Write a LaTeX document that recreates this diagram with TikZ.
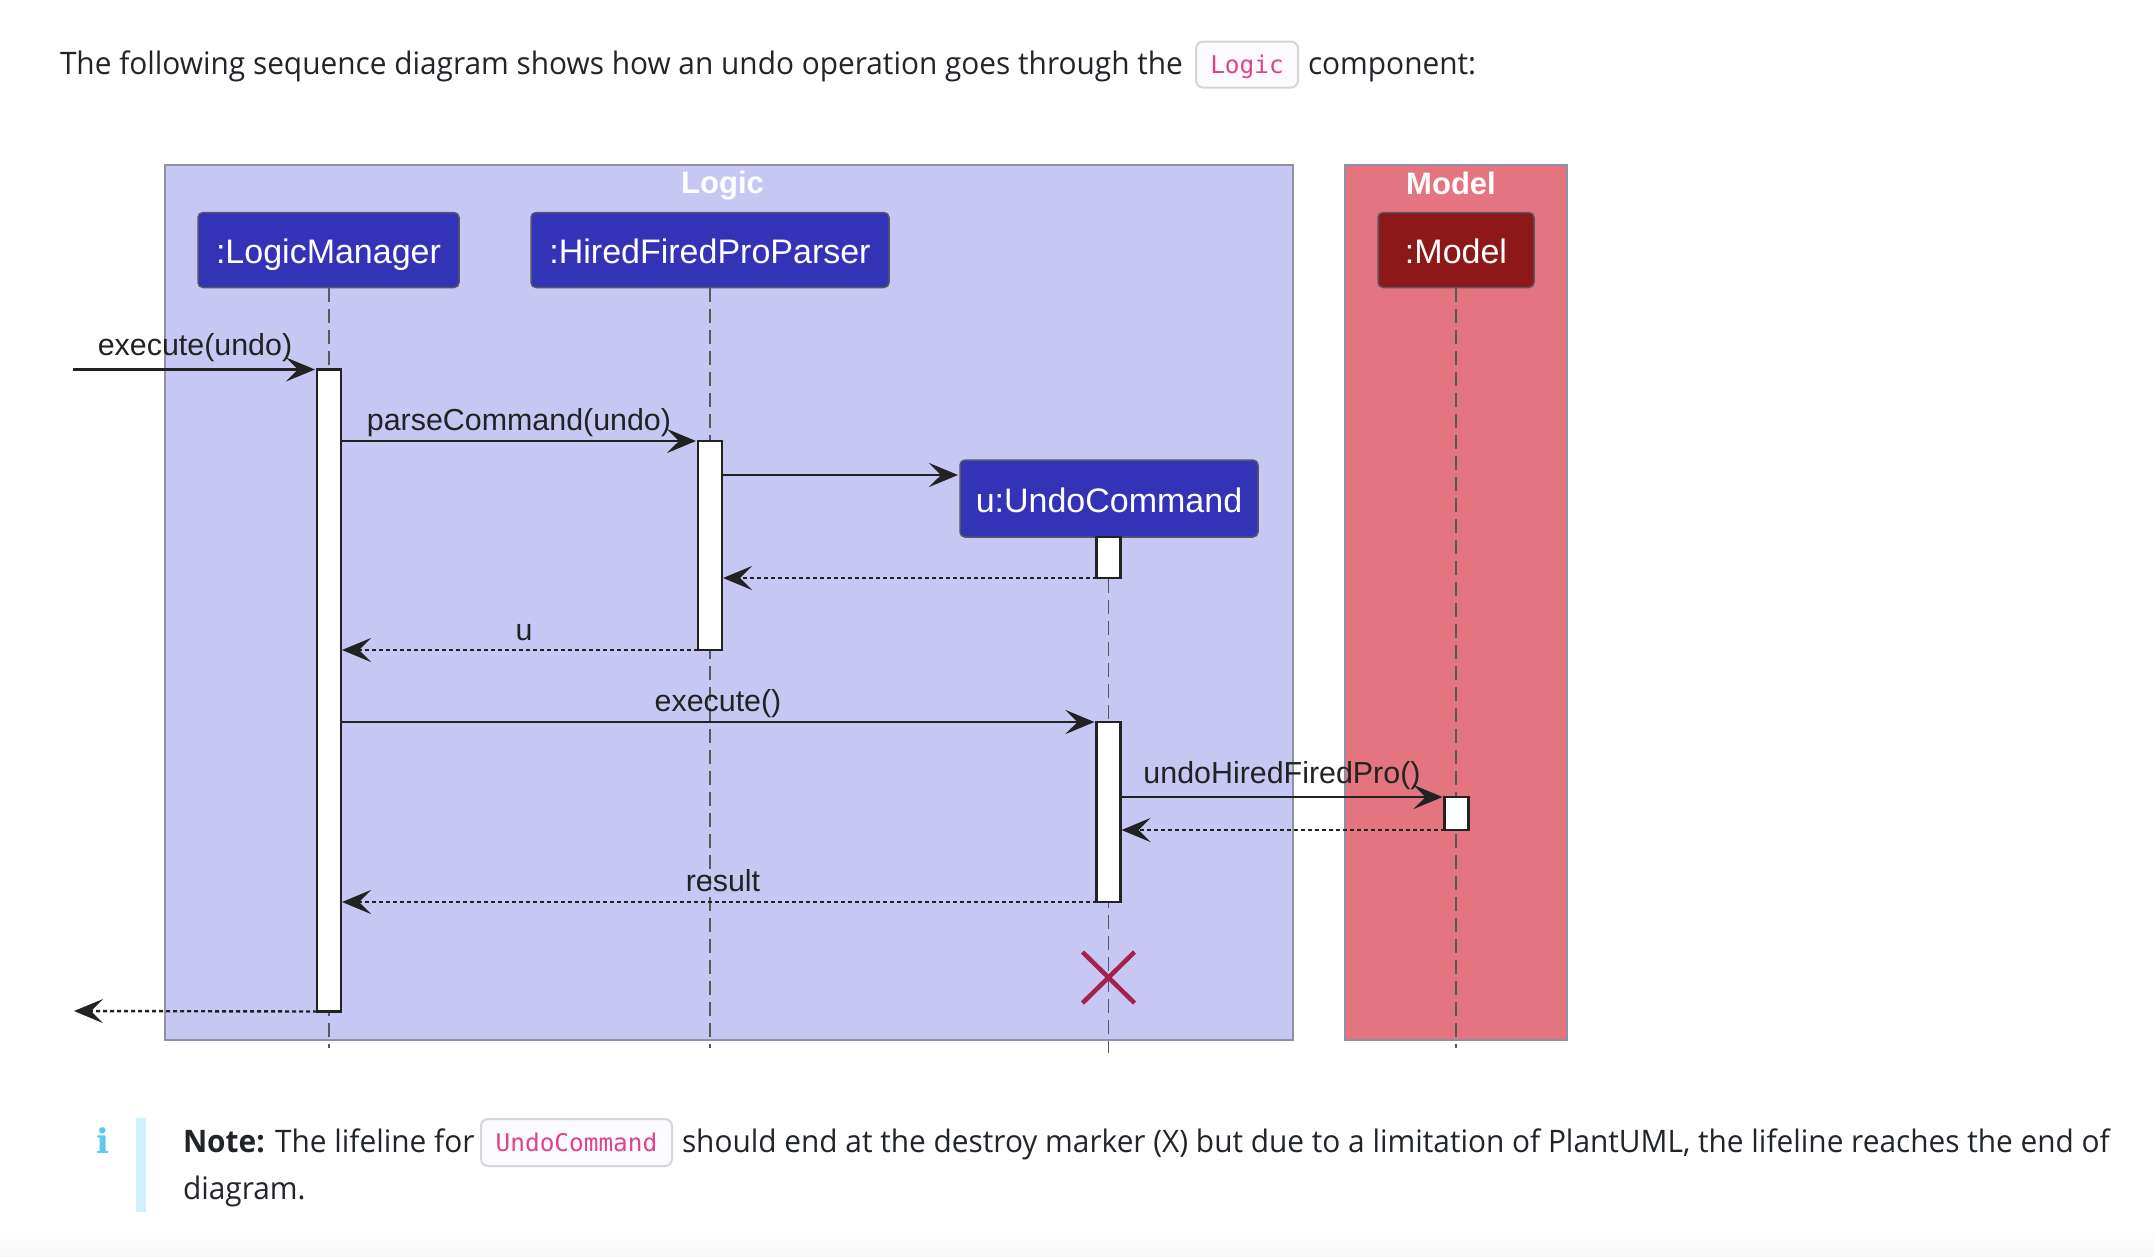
\documentclass[tikz,border=0pt]{standalone}
\usepackage{fontspec}
\usetikzlibrary{arrows.meta,positioning}
\setmainfont{Liberation Sans}
\newfontfamily\pagefont[FakeStretch=0.962]{Open Sans}
\newfontfamily\codefont{DejaVu Sans Mono}
\newfontfamily\iconfont{DejaVu Serif}
\definecolor{logicbg}{HTML}{C7C7F4}
\definecolor{modelbg}{HTML}{E47480}
\definecolor{logicactor}{HTML}{3333B8}
\definecolor{modelactor}{HTML}{8C1818}
\definecolor{groupline}{HTML}{8F8FA6}
\definecolor{ink}{HTML}{222222}
\definecolor{pageink}{HTML}{212529}
\definecolor{codepink}{HTML}{E0428A}
\definecolor{destroyred}{HTML}{A5204A}
\definecolor{infoblue}{HTML}{5CC8EE}
\begin{document}
\begin{tikzpicture}[x=1pt,y=-1pt,>={Stealth[length=29pt,width=24pt,inset=12pt]},
  every node/.style={inner sep=0pt,outer sep=0pt},
  group/.style={draw=groupline,line width=2pt,anchor=north west},
  grouptitle/.style={text=white,font=\fontsize{31}{36}\selectfont\bfseries},
  actor/.style={draw=groupline!60!black,line width=1.5pt,rounded corners=5pt,minimum height=75pt,text height=33pt,text depth=6pt,text=white,font=\fontsize{34}{40}\selectfont},
  lifeline/.style={draw=black!65,line width=1.8pt,dash pattern=on 14pt off 7pt},
  bar/.style={draw=ink,fill=white,line width=2.2pt,minimum width=24pt,anchor=north},
  call/.style={->,draw=ink,line width=2.8pt,shorten >=2pt},
  reply/.style={->,draw=ink,line width=2.4pt,dash pattern=on 4pt off 3pt,shorten >=1pt},
  msg/.style={text=ink,font=\fontsize{30.4}{36}\selectfont},
  page/.style={text=pageink,anchor=base west,font=\pagefont\fontsize{31}{38}\selectfont},
  code/.style={draw=black!16,fill=blue!2,line width=2pt,rounded corners=7pt,text height=24pt,text depth=7pt,text=codepink,font=\codefont\fontsize{24.4}{30}\selectfont}]
\useasboundingbox[fill=white] (0,0) rectangle (2154,1256);
\shade[top color=white,bottom color=black!3] (0,1225) rectangle (2154,1256);
\node[page] (intro) at (60,74) {The following sequence diagram shows how an undo operation goes through the};
\node[code,minimum width=102pt,minimum height=46pt] (logiccode) at (1247,64.5) {Logic};
\node[page] (introend) at (1308,74) {component:};

\node[group,fill=logicbg,minimum width=1128pt,minimum height=875pt] (logicgroup) at (165,165) {};
\node[group,fill=modelbg,minimum width=222pt,minimum height=875pt] (modelgroup) at (1345,165) {};
\node[grouptitle] (logictitle) at (722.5,186) {Logic};
\node[grouptitle] (modeltitle) at (1451,183) {Model};

\node[actor,fill=logicactor,minimum width=261pt] (manager) at (328.5,250) {:LogicManager};
\node[actor,fill=logicactor,minimum width=358pt] (parser) at (710,250) {:HiredFiredProParser};
\node[actor,fill=modelactor,minimum width=156pt] (model) at (1456,250) {:Model};
\coordinate (managerend) at (329,1048);
\coordinate (parserend) at (710,1048);
\coordinate (undoend) at (1108.5,1053);
\coordinate (modelend) at (1456,1048);
\draw[lifeline] (manager.south -| managerend) -- (managerend);
\draw[lifeline] (parser.south) -- (parserend);
\draw[lifeline] (model.south) -- (modelend);
\draw[lifeline] (1108.5,537) -- (undoend);

\node[actor,fill=logicactor,minimum width=298pt,minimum height=77pt] (undo) at (1109,498.5) {u:UndoCommand};
\node[bar,minimum height=642pt] (managerbar) at (329,369.5) {};
\node[bar,minimum height=209pt] (parserbar) at (710,441) {};
\node[bar,minimum height=41pt] (undobirth) at (1108.5,537) {};
\node[bar,minimum height=180pt] (undobar) at (1108.5,722) {};
\node[bar,minimum height=33pt] (modelbar) at (1456.5,797) {};

\coordinate (incoming) at (73,369.5);
\coordinate (outgoing) at (73,1011);
\coordinate (creation) at (722,475);
\draw[call] (incoming) -- (managerbar.north west);
\draw[call] (managerbar.east |- parserbar.north) -- (parserbar.north west);
\draw[call] (creation) -- (creation -| undo.west);
\draw[reply] (undobirth.south west) -- (parserbar.east |- undobirth.south);
\draw[reply] (parserbar.south west) -- (managerbar.east |- parserbar.south);
\draw[call] (managerbar.east |- undobar.north) -- (undobar.north west);
\draw[call] (undobar.east |- modelbar.north) -- (modelbar.north west);
\draw[reply] (modelbar.south west) -- (undobar.east |- modelbar.south);
\draw[reply] (undobar.south west) -- (managerbar.east |- undobar.south);
\draw[reply] (managerbar.south west) -- (outgoing);

\node[msg] (executeundo) at (195,348) {execute(undo)};
\node[msg] (parsecommand) at (519,423) {parseCommand(undo)};
\node[msg] (ulabel) at (524,633) {u};
\node[msg] (executelabel) at (718,703.5) {execute()};
\node[msg] (undohired) at (1282,776) {undoHiredFiredPro()};
\node[msg] (resultlabel) at (723,881) {result};

\draw[draw=destroyred,line width=4.5pt] (1082.5,952) -- (1134.5,1003) (1134.5,952) -- (1082.5,1003);

\fill[cyan!18] (136,1118) rectangle (146,1212);
\node[text=infoblue,font=\iconfont\bfseries\fontsize{34}{40}\selectfont] (infoicon) at (103,1141) {i};
\node[page] (notestart) at (183,1152) {\textbf{Note:} The lifeline for};
\node[code,minimum width=191pt,minimum height=47pt] (undocode) at (576.5,1142.5) {UndoCommand};
\node[page] (noterest) at (682,1152) {should end at the destroy marker (X) but due to a limitation of PlantUML, the lifeline reaches the end of};
\node[page] (noteend) at (183,1199) {diagram.};
\end{tikzpicture}
\end{document}
